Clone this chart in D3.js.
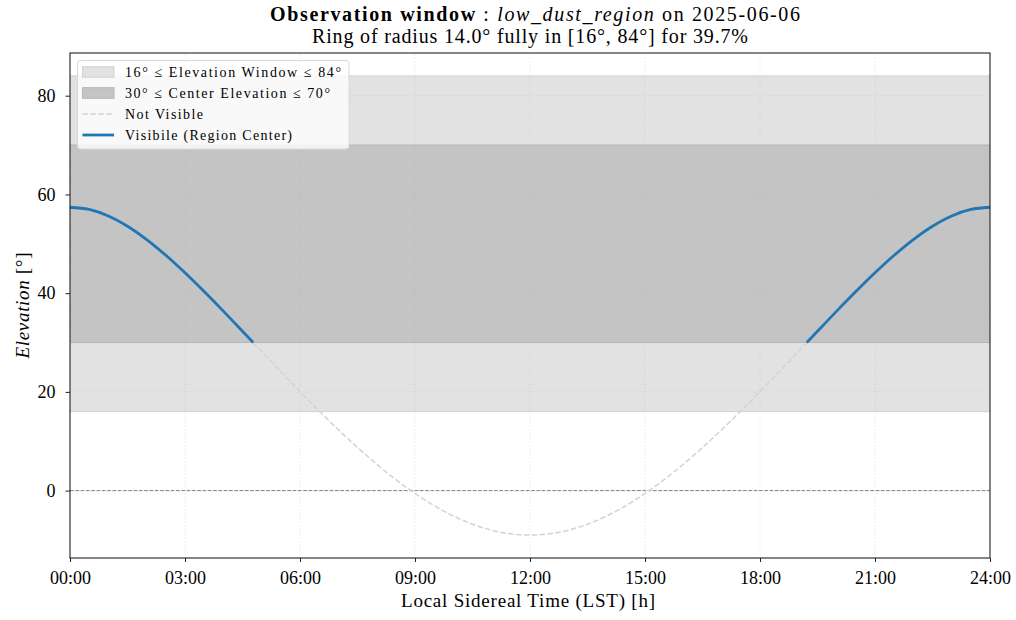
<!DOCTYPE html>
<html>
<head>
<meta charset="utf-8">
<script src="https://cdn.jsdelivr.net/npm/d3@7"></script>
<style>
  html, body { margin: 0; padding: 0; background: #fff; }
  svg text { font-family: "Liberation Serif", "DejaVu Serif", serif; fill: #000; }
</style>
</head>
<body>
<svg id="chart" width="1016" height="620"></svg>
<script>
// Local sidereal time [h] and elevation of the region centre [deg]
const lst = [0, 0.5, 1, 1.5, 2, 2.5, 3, 3.5, 4, 4.5, 4.78, 5, 5.5, 6, 6.5, 7, 7.5, 8, 8.5, 9, 9.5,
  10, 10.5, 11, 11.5, 12, 12.5, 13, 13.5, 14, 14.5, 15, 15.5, 16, 16.5, 17, 17.5, 18, 18.5, 19,
  19.22, 19.5, 20, 20.5, 21, 21.5, 22, 22.5, 23, 23.5, 24];
const elevation = [57.4, 56.95, 55.64, 53.56, 50.86, 47.67, 44.12, 40.32, 36.36, 32.29, 30.0, 28.18,
  24.09, 20.06, 16.13, 12.34, 8.73, 5.35, 2.23, -0.58, -3.05, -5.14, -6.80, -8.02, -8.76, -9.0,
  -8.76, -8.02, -6.80, -5.14, -3.05, -0.58, 2.23, 5.35, 8.73, 12.34, 16.13, 20.06, 24.09, 28.18,
  30.0, 32.29, 36.36, 40.32, 44.12, 47.67, 50.86, 53.56, 55.64, 56.95, 57.4];

// Elevation windows [deg]
const windowBand = [16, 84];
const centerBand = [30, 70];

// Axis ticks
const xTicks = [0, 3, 6, 9, 12, 15, 18, 21, 24];
const xTickLabels = ["00:00", "03:00", "06:00", "09:00", "12:00", "15:00", "18:00", "21:00", "24:00"];
const yTicks = [0, 20, 40, 60, 80];

const legendLabels = [
  "16° ≤ Elevation Window ≤ 84°",
  "30° ≤ Center Elevation ≤ 70°",
  "Not Visible",
  "Visibile (Region Center)"
];
const legendWidths = [216, 205, 78, 167];

const svg = d3.select("#chart");
const margin = { left: 70, right: 26, top: 53, bottom: 62 };
const W = 1016, H = 620;
const x = d3.scaleLinear().domain([0, 24]).range([margin.left, W - margin.right]);
const y = d3.scaleLinear().domain([-13.65, 88.65]).range([H - margin.bottom, margin.top]);
const xMid = (x.range()[0] + x.range()[1]) / 2;

const pts = lst.map((t, i) => ({ t, e: elevation[i] }));

const plot = svg.append("g");

// Bands
plot.append("rect")
  .attr("x", x(0)).attr("width", x(24) - x(0))
  .attr("y", y(windowBand[1])).attr("height", y(windowBand[0]) - y(windowBand[1]))
  .attr("fill", "#e2e2e2");
plot.append("rect")
  .attr("x", x(0)).attr("width", x(24) - x(0))
  .attr("y", y(centerBand[1])).attr("height", y(centerBand[0]) - y(centerBand[1]))
  .attr("fill", "#c4c4c4");
[[windowBand[0], "#d2d2d2"], [windowBand[1], "#d2d2d2"], [centerBand[0], "#b4b4b4"], [centerBand[1], "#b4b4b4"]]
  .forEach(([v, c]) => {
    plot.append("line").attr("x1", x(0)).attr("x2", x(24))
      .attr("y1", y(v)).attr("y2", y(v)).attr("stroke", c).attr("stroke-width", 1);
  });

// Grid
const grid = plot.append("g").attr("stroke", "#b0b0b0").attr("stroke-opacity", 0.45)
  .attr("stroke-width", 0.8).attr("stroke-dasharray", "1,2.2");
xTicks.forEach(t => grid.append("line").attr("x1", x(t)).attr("x2", x(t))
  .attr("y1", y.range()[0]).attr("y2", y.range()[1]));
yTicks.forEach(t => grid.append("line").attr("y1", y(t)).attr("y2", y(t))
  .attr("x1", x.range()[0]).attr("x2", x.range()[1]));

// Horizon line
plot.append("line").attr("x1", x(0)).attr("x2", x(24)).attr("y1", y(0)).attr("y2", y(0))
  .attr("stroke", "#808080").attr("stroke-width", 1).attr("stroke-dasharray", "3.7,1.6");

const line = d3.line().x(d => x(d.t)).y(d => y(d.e)).curve(d3.curveCatmullRom);

// Track below the centre window (dashed)
const i0 = lst.indexOf(4.78), i1 = lst.indexOf(19.22);
plot.append("path").datum(pts.slice(i0, i1 + 1)).attr("d", line)
  .attr("fill", "none").attr("stroke", "#d3d3d3").attr("stroke-width", 1.5)
  .attr("stroke-dasharray", "5.5,2.4");

// Visible segments
[pts.slice(0, i0 + 1), pts.slice(i1)].forEach(seg => {
  plot.append("path").datum(seg).attr("d", line)
    .attr("fill", "none").attr("stroke", "#1f77b4").attr("stroke-width", 2.8)
    .attr("stroke-linecap", "butt");
});

// Axes
const xAxis = d3.axisBottom(x).tickValues(xTicks).tickFormat((d, i) => xTickLabels[i])
  .tickSizeInner(4).tickSizeOuter(0).tickPadding(9);
const yAxis = d3.axisLeft(y).tickValues(yTicks).tickSizeInner(4.5).tickSizeOuter(0).tickPadding(10);
const gx = svg.append("g").attr("transform", `translate(0,${y.range()[0]})`).call(xAxis);
const gy = svg.append("g").attr("transform", `translate(${x.range()[0]},0)`).call(yAxis);
[gx, gy].forEach(g => {
  g.select(".domain").remove();
  g.selectAll(".tick line").attr("stroke", "#222").attr("stroke-width", 1);
  g.selectAll(".tick text").style("font-size", "18px").attr("fill", "#000");
});

// Frame
svg.append("rect").attr("x", x.range()[0]).attr("y", y.range()[1])
  .attr("width", x.range()[1] - x.range()[0]).attr("height", y.range()[0] - y.range()[1])
  .attr("fill", "none").attr("stroke", "#222").attr("stroke-width", 1.1);

// Titles
const t1 = svg.append("text").attr("x", xMid + 5).attr("y", 21).attr("text-anchor", "middle")
  .style("font-size", "20px").attr("textLength", 530).attr("lengthAdjust", "spacing");
t1.append("tspan").attr("font-weight", "bold").text("Observation window");
t1.append("tspan").text(" : ");
t1.append("tspan").attr("font-style", "italic").text("low_dust_region");
t1.append("tspan").text(" on 2025-06-06");
svg.append("text").attr("x", xMid).attr("y", 43).attr("text-anchor", "middle")
  .style("font-size", "20px").attr("textLength", 436).attr("lengthAdjust", "spacing")
  .text("Ring of radius 14.0° fully in [16°, 84°] for 39.7%");

// Axis labels
svg.append("text").attr("x", xMid - 2).attr("y", 607).attr("text-anchor", "middle")
  .style("font-size", "19px").attr("textLength", 254).attr("lengthAdjust", "spacing")
  .text("Local Sidereal Time (LST) [h]");
const yl = svg.append("text").attr("transform", `translate(29,${(y.range()[0] + y.range()[1]) / 2}) rotate(-90)`)
  .attr("text-anchor", "middle").style("font-size", "19px")
  .attr("textLength", 106).attr("lengthAdjust", "spacing");
yl.append("tspan").attr("font-style", "italic").text("Elevation");
yl.append("tspan").text(" [°]");

// Legend
const lg = svg.append("g").attr("transform", "translate(77.5,60.5)");
lg.append("rect").attr("width", 271.5).attr("height", 88.5).attr("rx", 3)
  .attr("fill", "#fff").attr("fill-opacity", 0.8).attr("stroke", "#d8d8d8").attr("stroke-width", 1);
legendLabels.forEach((lab, i) => {
  const cy = 11.5 + i * 21;
  const g = lg.append("g").attr("transform", `translate(0,${cy})`);
  if (i === 0) g.append("rect").attr("x", 5).attr("y", -5.3).attr("width", 31.5).attr("height", 10.6)
    .attr("fill", "#e2e2e2").attr("stroke", "#d2d2d2");
  if (i === 1) g.append("rect").attr("x", 5).attr("y", -5.3).attr("width", 31.5).attr("height", 10.6)
    .attr("fill", "#c4c4c4").attr("stroke", "#b4b4b4");
  if (i === 2) g.append("line").attr("x1", 5).attr("x2", 36.5).attr("stroke", "#d3d3d3")
    .attr("stroke-width", 1.5).attr("stroke-dasharray", "5.5,2.4");
  if (i === 3) g.append("line").attr("x1", 5).attr("x2", 36.5).attr("stroke", "#1f77b4")
    .attr("stroke-width", 2.8);
  g.append("text").attr("x", 47.5).attr("y", 5).style("font-size", "14px")
    .attr("textLength", legendWidths[i]).attr("lengthAdjust", "spacing").text(lab);
});
</script>
</body>
</html>
